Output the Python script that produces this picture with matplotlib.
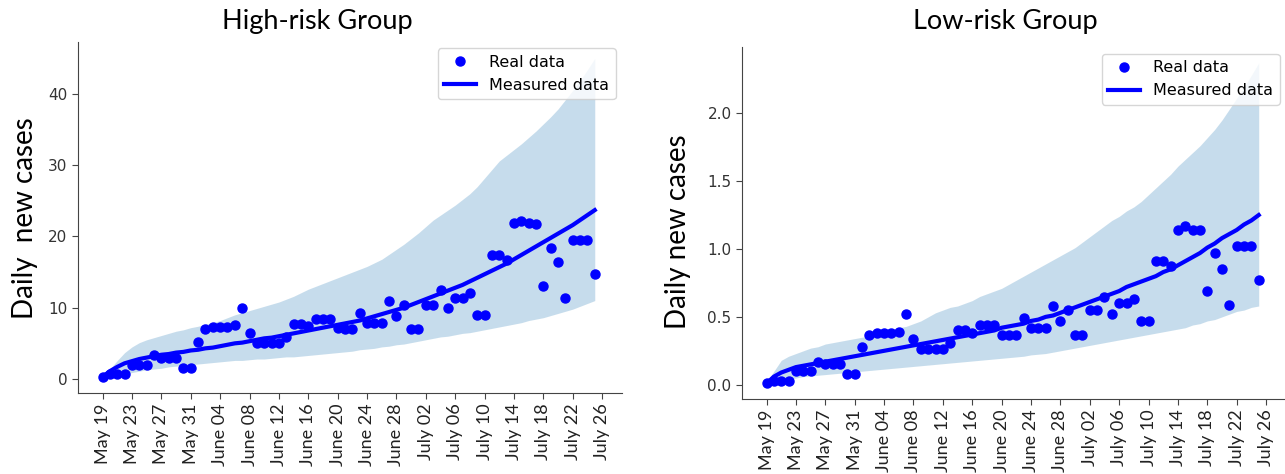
import matplotlib
matplotlib.use("Agg")
import matplotlib.pyplot as plt
import numpy as np

# tick labels (every 4 days, May 19 - July 26)
tick_labels = ["May 19", "May 23", "May 27", "May 31", "June 04", "June 08",
               "June 12", "June 16", "June 20", "June 24", "June 28", "July 02",
               "July 06", "July 10", "July 14", "July 18", "July 22", "July 26"]

# High-risk group (daily values from May 19)
high_real = [0.3, 0.7, 0.7, 0.7, 2.0, 2.0, 2.0, 3.3, 2.9, 2.9, 2.9, 1.5, 1.5, 5.2,
             7.0, 7.3, 7.3, 7.3, 7.6, 10.0, 6.5, 5.0, 5.0, 5.0, 5.0, 5.9, 7.7, 7.7,
             7.4, 8.4, 8.4, 8.4, 7.1, 7.0, 7.0, 9.3, 7.9, 7.9, 7.9, 10.9, 8.9, 10.4,
             7.0, 7.0, 10.4, 10.4, 12.5, 10.0, 11.4, 11.4, 12.1, 9.0, 9.0, 17.4, 17.4,
             16.7, 21.9, 22.2, 21.9, 21.7, 13.1, 18.4, 16.4, 11.4, 19.5, 19.5, 19.5, 14.7]
high_fit = [0.3, 1.1, 1.7, 2.2, 2.5, 2.8, 3.0, 3.2, 3.4, 3.5, 3.7, 3.8, 4.0, 4.1,
            4.3, 4.4, 4.6, 4.8, 5.0, 5.1, 5.3, 5.5, 5.7, 5.8, 6.0, 6.2, 6.4, 6.6,
            6.8, 7.0, 7.2, 7.4, 7.6, 7.8, 8.0, 8.2, 8.5, 8.8, 9.1, 9.4, 9.7, 10.0,
            10.4, 10.8, 11.2, 11.6, 12.0, 12.4, 12.8, 13.2, 13.7, 14.2, 14.7, 15.2,
            15.7, 16.2, 16.8, 17.4, 18.0, 18.6, 19.2, 19.8, 20.4, 21.0, 21.6, 22.3,
            23.0, 23.7]
high_upper = [0.4, 1.4, 2.6, 3.7, 4.5, 5.1, 5.5, 5.8, 6.1, 6.4, 6.7, 6.9, 7.2, 7.4,
              7.7, 7.9, 8.2, 8.6, 9.0, 9.3, 9.6, 9.9, 10.2, 10.5, 10.8, 11.2, 11.6,
              12.1, 12.6, 13.0, 13.4, 13.8, 14.2, 14.6, 15.0, 15.4, 15.8, 16.3, 16.8,
              17.5, 18.2, 18.9, 19.7, 20.5, 21.4, 22.3, 23.0, 23.7, 24.4, 25.2, 26.0,
              27.0, 28.2, 29.4, 30.6, 31.4, 32.2, 33.0, 33.9, 34.8, 35.8, 36.8, 37.9,
              39.2, 40.5, 41.9, 43.4, 45.0]
high_lower = [0.0, 0.3, 0.5, 0.7, 0.9, 1.1, 1.3, 1.4, 1.5, 1.7, 1.8, 1.9, 2.0, 2.1,
              2.2, 2.3, 2.4, 2.5, 2.6, 2.6, 2.7, 2.8, 2.8, 2.9, 3.0, 3.1, 3.1, 3.2,
              3.3, 3.4, 3.5, 3.6, 3.7, 3.8, 3.9, 4.1, 4.2, 4.3, 4.5, 4.6, 4.8, 4.9,
              5.1, 5.3, 5.5, 5.7, 5.9, 6.0, 6.2, 6.4, 6.5, 6.7, 6.9, 7.1, 7.3, 7.5,
              7.7, 7.9, 8.2, 8.4, 8.6, 8.9, 9.2, 9.5, 9.8, 10.2, 10.6, 11.0]

# Low-risk group
low_real = [0.01, 0.03, 0.03, 0.03, 0.10, 0.10, 0.10, 0.17, 0.15, 0.15, 0.15, 0.08,
            0.08, 0.28, 0.37, 0.38, 0.38, 0.38, 0.39, 0.52, 0.34, 0.26, 0.26, 0.26,
            0.26, 0.31, 0.40, 0.40, 0.38, 0.44, 0.44, 0.44, 0.37, 0.37, 0.37, 0.49,
            0.42, 0.42, 0.42, 0.58, 0.47, 0.55, 0.37, 0.37, 0.55, 0.55, 0.65, 0.52,
            0.60, 0.60, 0.63, 0.47, 0.47, 0.91, 0.91, 0.875, 1.14, 1.17, 1.14, 1.14,
            0.69, 0.97, 0.85, 0.59, 1.02, 1.02, 1.02, 0.77]
low_fit = [0.01, 0.06, 0.09, 0.11, 0.13, 0.14, 0.15, 0.16, 0.17, 0.18, 0.19, 0.20,
           0.21, 0.22, 0.23, 0.24, 0.25, 0.26, 0.27, 0.28, 0.29, 0.30, 0.31, 0.32,
           0.33, 0.34, 0.35, 0.36, 0.37, 0.38, 0.39, 0.40, 0.42, 0.43, 0.44, 0.45,
           0.47, 0.48, 0.50, 0.51, 0.53, 0.55, 0.57, 0.59, 0.61, 0.63, 0.65, 0.67,
           0.69, 0.72, 0.74, 0.76, 0.78, 0.80, 0.83, 0.85, 0.88, 0.91, 0.94, 0.97,
           1.01, 1.04, 1.08, 1.11, 1.14, 1.18, 1.21, 1.25]
low_upper = [0.02, 0.10, 0.18, 0.21, 0.23, 0.25, 0.27, 0.28, 0.30, 0.31, 0.32, 0.33,
             0.34, 0.35, 0.36, 0.37, 0.39, 0.40, 0.42, 0.43, 0.45, 0.47, 0.50, 0.53,
             0.55, 0.57, 0.58, 0.60, 0.62, 0.65, 0.67, 0.69, 0.71, 0.74, 0.77, 0.80,
             0.83, 0.86, 0.89, 0.92, 0.95, 0.98, 1.01, 1.05, 1.09, 1.13, 1.17, 1.21,
             1.24, 1.28, 1.31, 1.35, 1.40, 1.45, 1.50, 1.55, 1.61, 1.66, 1.71, 1.76,
             1.82, 1.88, 1.95, 2.03, 2.11, 2.19, 2.28, 2.37]
low_lower = [0.00, 0.02, 0.03, 0.04, 0.05, 0.06, 0.065, 0.07, 0.075, 0.08, 0.085, 0.09,
             0.095, 0.10, 0.105, 0.11, 0.115, 0.12, 0.125, 0.13, 0.135, 0.14, 0.145,
             0.15, 0.155, 0.16, 0.165, 0.17, 0.175, 0.18, 0.185, 0.19, 0.195, 0.20,
             0.205, 0.21, 0.22, 0.225, 0.23, 0.24, 0.25, 0.26, 0.27, 0.28, 0.29, 0.30,
             0.31, 0.32, 0.33, 0.34, 0.35, 0.36, 0.37, 0.38, 0.39, 0.40, 0.41, 0.42,
             0.44, 0.45, 0.47, 0.48, 0.50, 0.52, 0.54, 0.55, 0.57, 0.58]

title_font = ["Lato", "DejaVu Sans"]

fig = plt.figure(figsize=(12.85, 4.74), dpi=100)
ax1 = fig.add_axes([0.0607, 0.1709, 0.4233, 0.7405])
ax2 = fig.add_axes([0.5774, 0.1582, 0.4233, 0.7416])


def draw(ax, real, fit, lower, upper, ylim, yticks):
    days = np.arange(len(real))
    ax.fill_between(days, lower, upper, color="C0", alpha=0.25, linewidth=0)
    ax.plot(days, real, "o", color="blue", markersize=6.5, label="Real data")
    ax.plot(days, fit, "-", color="blue", linewidth=3, label="Measured data")
    ax.set_xlim(-3.35, 70.7)
    ax.set_ylim(*ylim)
    ax.set_yticks(yticks)
    ax.set_xticks(np.arange(0, 4 * len(tick_labels), 4))
    ax.set_xticklabels(tick_labels, rotation=90, family=title_font, fontsize=13,
                       color="#222222")
    ax.tick_params(axis="y", labelsize=11, labelcolor="#333333", color="#444444", length=4)
    ax.tick_params(axis="x", color="#444444", length=4)
    for s in ["top", "right"]:
        ax.spines[s].set_visible(False)
    for s in ["left", "bottom"]:
        ax.spines[s].set_color("#444444")
    ax.legend(loc="upper right", fontsize=11.5, borderaxespad=0.4)


draw(ax1, high_real, high_fit, high_lower, high_upper,
     (-1.97, 47.3), [0, 10, 20, 30, 40])
draw(ax2, low_real, low_fit, low_lower, low_upper,
     (-0.105, 2.484), [0.0, 0.5, 1.0, 1.5, 2.0])

fig.text(317 / 1285, 1 - 22 / 474, "High-risk Group", ha="center", va="center",
         fontsize=19.5, family=title_font)
fig.text(1005 / 1285, 1 - 22 / 474, "Low-risk Group", ha="center", va="center",
         fontsize=19.5, family=title_font)
fig.text(25 / 1285, 1 - 218 / 474, "Daily  new cases", ha="center", va="center",
         rotation=90, fontsize=20, family=title_font)
fig.text(678 / 1285, 1 - 232 / 474, "Daily new cases", ha="center", va="center",
         rotation=90, fontsize=20, family=title_font)

fig.savefig("out.png", dpi=100, facecolor="white")
